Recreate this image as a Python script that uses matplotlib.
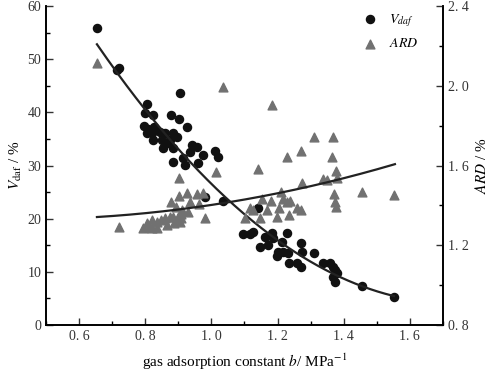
import numpy as np
import matplotlib.pyplot as plt
from matplotlib.ticker import MultipleLocator, FixedLocator

plt.rcParams['font.family'] = ['Liberation Serif', 'DejaVu Serif']
plt.rcParams['mathtext.fontset'] = 'stix'

# V_daf points (b, V_daf %)
b_v = [0.654, 0.715, 0.722, 0.805, 0.905, 0.799, 0.824, 0.878, 0.902, 0.796,
       0.808, 0.827, 0.926, 0.805, 0.820, 0.845, 0.860, 0.884, 0.896, 0.824,
       0.851, 0.866, 0.875, 0.854, 0.884, 0.941, 0.956, 0.935, 0.975, 1.011,
       1.020, 0.884, 0.914, 0.920, 0.960, 0.980, 1.035, 1.141, 1.095, 1.117,
       1.126, 1.162, 1.183, 1.186, 1.147, 1.171, 1.213, 1.228, 1.201, 1.198,
       1.216, 1.231, 1.271, 1.274, 1.310, 1.234, 1.258, 1.271, 1.337, 1.358,
       1.367, 1.373, 1.379, 1.367, 1.373, 1.455, 1.552]
vdaf = [55.9, 48.0, 48.3, 41.6, 43.6, 39.9, 39.5, 39.5, 38.7, 37.4,
        36.9, 37.2, 37.2, 36.1, 36.1, 36.3, 36.1, 36.1, 35.4, 34.8,
        34.8, 34.2, 34.8, 33.3, 33.3, 33.9, 33.5, 32.5, 32.0, 32.7,
        31.6, 30.7, 31.4, 30.1, 30.5, 24.1, 23.3, 22.0, 17.1, 17.1,
        17.5, 16.5, 17.3, 16.4, 14.7, 15.0, 15.6, 17.3, 13.7, 13.0,
        13.7, 13.5, 15.4, 13.7, 13.5, 11.7, 11.7, 10.9, 11.7, 11.7,
        10.9, 10.3, 9.8, 9.0, 8.1, 7.3, 5.3]

# ARD points (b, ARD %)
b_a = [0.654, 0.721, 0.793, 0.805, 0.810, 0.820, 0.835, 0.847, 0.860, 0.875,
       0.884, 0.899, 0.908, 0.820, 0.835, 0.865, 0.887, 0.905, 0.908, 0.893,
       0.911, 0.929, 0.878, 0.935, 0.963, 0.902, 0.926, 0.956, 0.975, 0.902,
       1.014, 0.980, 1.035, 1.183, 1.310, 1.367, 1.228, 1.271, 1.364, 1.141,
       1.376, 1.274, 1.337, 1.349, 1.379, 1.210, 1.455, 1.370, 1.373, 1.376,
       1.153, 1.180, 1.216, 1.228, 1.237, 1.117, 1.126, 1.168, 1.204, 1.258,
       1.271, 1.102, 1.147, 1.198, 1.234, 1.552]
ard = [2.114, 1.291, 1.286, 1.312, 1.291, 1.326, 1.316, 1.326, 1.337, 1.342,
       1.342, 1.342, 1.337, 1.286, 1.286, 1.301, 1.312, 1.316, 1.357, 1.392,
       1.377, 1.367, 1.417, 1.417, 1.407, 1.447, 1.462, 1.457, 1.462, 1.537,
       1.567, 1.337, 1.994, 1.903, 1.743, 1.743, 1.643, 1.673, 1.643, 1.582,
       1.572, 1.512, 1.532, 1.527, 1.537, 1.467, 1.467, 1.457, 1.417, 1.392,
       1.432, 1.422, 1.432, 1.417, 1.422, 1.387, 1.377, 1.377, 1.387, 1.387,
       1.377, 1.337, 1.337, 1.342, 1.352, 1.452]

# fitted trend curves
fit_b_v = [0.654, 0.721, 0.944, 1.035, 1.086, 1.388, 1.552]
fit_v = [52.3, 47.6, 30.5, 23.5, 21.8, 9.4, 5.3]
fit_b_a = [0.654, 0.884, 1.086, 1.147, 1.388, 1.509, 1.555]
fit_a = [1.342, 1.377, 1.422, 1.442, 1.537, 1.587, 1.602]

fig = plt.figure(figsize=(4.91, 3.70), dpi=100)
ax = fig.add_axes([0.0937, 0.1216, 0.8083, 0.8622])
ax2 = ax.twinx()

grey = '#717171'
ax.scatter(b_v, vdaf, s=34, color='#111111', zorder=3)
ax2.scatter(b_a, ard, s=40, marker='^', color=grey, zorder=2)

xs = np.linspace(min(fit_b_v), max(fit_b_v), 200)
cv = np.polyfit(fit_b_v, fit_v, 2)
ax.plot(xs, np.polyval(cv, xs), color='#222222', lw=1.6, zorder=4)
xa = np.linspace(min(fit_b_a), max(fit_b_a), 200)
ca = np.polyfit(fit_b_a, fit_a, 2)
ax2.plot(xa, np.polyval(ca, xa), color='#222222', lw=1.6, zorder=4)

ax.set_xlim(0.5, 1.7)
ax.set_ylim(0, 60)
ax2.set_ylim(0.8, 2.4)

ax.xaxis.set_major_locator(FixedLocator([0.6, 0.8, 1.0, 1.2, 1.4, 1.6]))
ax.set_xticklabels(['0. 6', '0. 8', '1. 0', '1. 2', '1. 4', '1. 6'])
ax.xaxis.set_minor_locator(MultipleLocator(0.1))
ax.yaxis.set_major_locator(MultipleLocator(10))
ax.yaxis.set_minor_locator(MultipleLocator(5))
ax2.yaxis.set_major_locator(FixedLocator([0.8, 1.2, 1.6, 2.0, 2.4]))
ax2.set_yticklabels(['0. 8', '1. 2', '1. 6', '2. 0', '2. 4'])
ax2.yaxis.set_minor_locator(MultipleLocator(0.2))

for a in (ax, ax2):
    a.tick_params(which='major', direction='in', length=5, width=1, labelsize=10, colors='#333333')
    a.tick_params(which='minor', direction='in', length=3, width=1)
    for s in a.spines.values():
        s.set_linewidth(1.2)
ax.tick_params(top=False, which='both')
ax2.spines['top'].set_visible(False)
ax.spines['top'].set_visible(False)

ax.set_xlabel('gas adsorption constant $b$/ MPa$^{-1}$', fontsize=11, labelpad=6)
ax.set_ylabel('$V_{\\rm daf}$ / %', fontsize=11, labelpad=2)
ax2.set_ylabel('$ARD$ / %', fontsize=11, labelpad=4)

h1 = ax.scatter([], [], s=34, color='#111111')
h2 = ax.scatter([], [], s=40, marker='^', color=grey)
ax.legend([h1, h2], ['$V_{daf}$', '$ARD$'], loc='upper right',
          bbox_to_anchor=(0.97, 1.02), frameon=False, fontsize=10,
          handletextpad=0.4, labelspacing=0.6)

fig.savefig('out.png', dpi=100)
